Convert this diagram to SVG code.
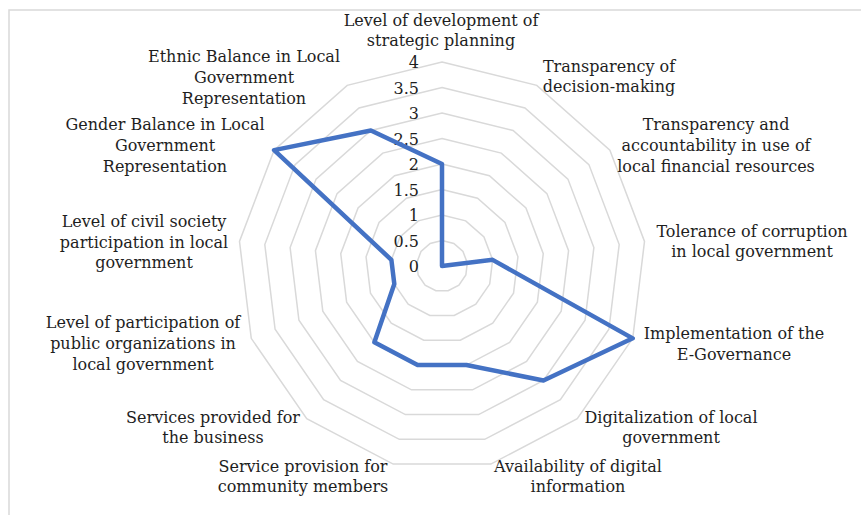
<svg xmlns="http://www.w3.org/2000/svg" width="861" height="515" viewBox="0 0 861 515">
<style>
.frame{fill:none;stroke:#d9d9d9;stroke-width:1.5}
.grid{fill:none;stroke:#d9d9d9;stroke-width:1.5}
.series{fill:none;stroke:#4472C4;stroke-width:4.5;stroke-linejoin:round}
.lbl{font-family:"DejaVu Serif","Liberation Serif",serif;font-size:16px;fill:#1e1e1e;text-anchor:middle}
.tick{font-family:"DejaVu Serif","Liberation Serif",serif;font-size:16px;fill:#1e1e1e;text-anchor:end}
</style>
<rect width="861" height="515" fill="#ffffff"/>
<path class="frame" d="M9,515 V10 H861"/>
<g id="gridlines" transform="translate(442,266)">
<polygon class="grid" points="0,-25.5 11.85,-22.58 20.99,-14.49 25.31,-3.07 23.84,9.04 16.91,19.09 6.10,24.76 -6.10,24.76 -16.91,19.09 -23.84,9.04 -25.31,-3.07 -20.99,-14.49 -11.85,-22.58"/>
<polygon class="grid" points="0,-51 23.70,-45.16 41.97,-28.97 50.63,-6.15 47.69,18.08 33.82,38.17 12.21,49.52 -12.21,49.52 -33.82,38.17 -47.69,18.08 -50.63,-6.15 -41.97,-28.97 -23.70,-45.16"/>
<polygon class="grid" points="0,-76.5 35.55,-67.74 62.96,-43.46 75.94,-9.22 71.53,27.13 50.73,57.26 18.31,74.28 -18.31,74.28 -50.73,57.26 -71.53,27.13 -75.94,-9.22 -62.96,-43.46 -35.55,-67.74"/>
<polygon class="grid" points="0,-102 47.40,-90.32 83.94,-57.94 101.26,-12.30 95.37,36.17 67.64,76.35 24.41,99.04 -24.41,99.04 -67.64,76.35 -95.37,36.17 -101.26,-12.30 -83.94,-57.94 -47.40,-90.32"/>
<polygon class="grid" points="0,-127.5 59.25,-112.90 104.93,-72.43 126.57,-15.37 119.21,45.21 84.55,95.43 30.51,123.79 -30.51,123.79 -84.55,95.43 -119.21,45.21 -126.57,-15.37 -104.93,-72.43 -59.25,-112.90"/>
<polygon class="grid" points="0,-153 71.10,-135.48 125.92,-86.91 151.88,-18.44 143.06,54.25 101.46,114.52 36.62,148.55 -36.62,148.55 -101.46,114.52 -143.06,54.25 -151.88,-18.44 -125.92,-86.91 -71.10,-135.48"/>
<polygon class="grid" points="0,-178.5 82.95,-158.05 146.90,-101.40 177.20,-21.52 166.90,63.30 118.37,133.61 42.72,173.31 -42.72,173.31 -118.37,133.61 -166.90,63.30 -177.20,-21.52 -146.90,-101.40 -82.95,-158.05"/>
<polygon class="grid" points="0,-204 94.80,-180.63 167.89,-115.88 202.51,-24.59 190.74,72.34 135.28,152.70 48.82,198.07 -48.82,198.07 -135.28,152.70 -190.74,72.34 -202.51,-24.59 -167.89,-115.88 -94.80,-180.63"/>
</g>
<g id="scale">
<text class="tick" x="419" y="272">0</text>
<text class="tick" x="419" y="247">0.5</text>
<text class="tick" x="419" y="221">1</text>
<text class="tick" x="419" y="196">1.5</text>
<text class="tick" x="419" y="170">2</text>
<text class="tick" x="419" y="145">2.5</text>
<text class="tick" x="419" y="119">3</text>
<text class="tick" x="419" y="94">3.5</text>
<text class="tick" x="419" y="68">4</text>
</g>
<g id="series" transform="translate(442,266)">
<polygon class="series" points="0,-102 0,0 0,0 50.63,-6.15 190.74,72.34 101.46,114.52 24.41,99.04 -24.41,99.04 -67.64,76.35 -47.69,18.08 -50.63,-6.15 -167.89,-115.88 -71.10,-135.48"/>
</g>
<g id="axis-labels">
<g id="ax0"><text class="lbl" x="441" y="26">Level of development of</text><text class="lbl" x="441" y="46">strategic planning</text></g>
<g id="ax1"><text class="lbl" x="609" y="72">Transparency of</text><text class="lbl" x="609" y="92">decision-making</text></g>
<g id="ax2"><text class="lbl" x="716" y="130">Transparency and</text><text class="lbl" x="716" y="151">accountability in use of</text><text class="lbl" x="716" y="172">local financial resources</text></g>
<g id="ax3"><text class="lbl" x="752" y="237">Tolerance of corruption</text><text class="lbl" x="752" y="257">in local government</text></g>
<g id="ax4"><text class="lbl" x="734" y="339">Implementation of the</text><text class="lbl" x="734" y="360">E-Governance</text></g>
<g id="ax5"><text class="lbl" x="671" y="423">Digitalization of local</text><text class="lbl" x="671" y="443">government</text></g>
<g id="ax6"><text class="lbl" x="578" y="472">Availability of digital</text><text class="lbl" x="578" y="492">information</text></g>
<g id="ax7"><text class="lbl" x="303" y="472">Service provision for</text><text class="lbl" x="303" y="492">community members</text></g>
<g id="ax8"><text class="lbl" x="213" y="423">Services provided for</text><text class="lbl" x="213" y="443">the business</text></g>
<g id="ax9"><text class="lbl" x="143" y="328">Level of participation of</text><text class="lbl" x="143" y="349">public organizations in</text><text class="lbl" x="143" y="370">local government</text></g>
<g id="ax10"><text class="lbl" x="144" y="227">Level of civil society</text><text class="lbl" x="144" y="248">participation in local</text><text class="lbl" x="144" y="268">government</text></g>
<g id="ax11"><text class="lbl" x="165" y="130">Gender Balance in Local</text><text class="lbl" x="165" y="151">Government</text><text class="lbl" x="165" y="172">Representation</text></g>
<g id="ax12"><text class="lbl" x="244" y="62">Ethnic Balance in Local</text><text class="lbl" x="244" y="83">Government</text><text class="lbl" x="244" y="104">Representation</text></g>
</g>
</svg>
